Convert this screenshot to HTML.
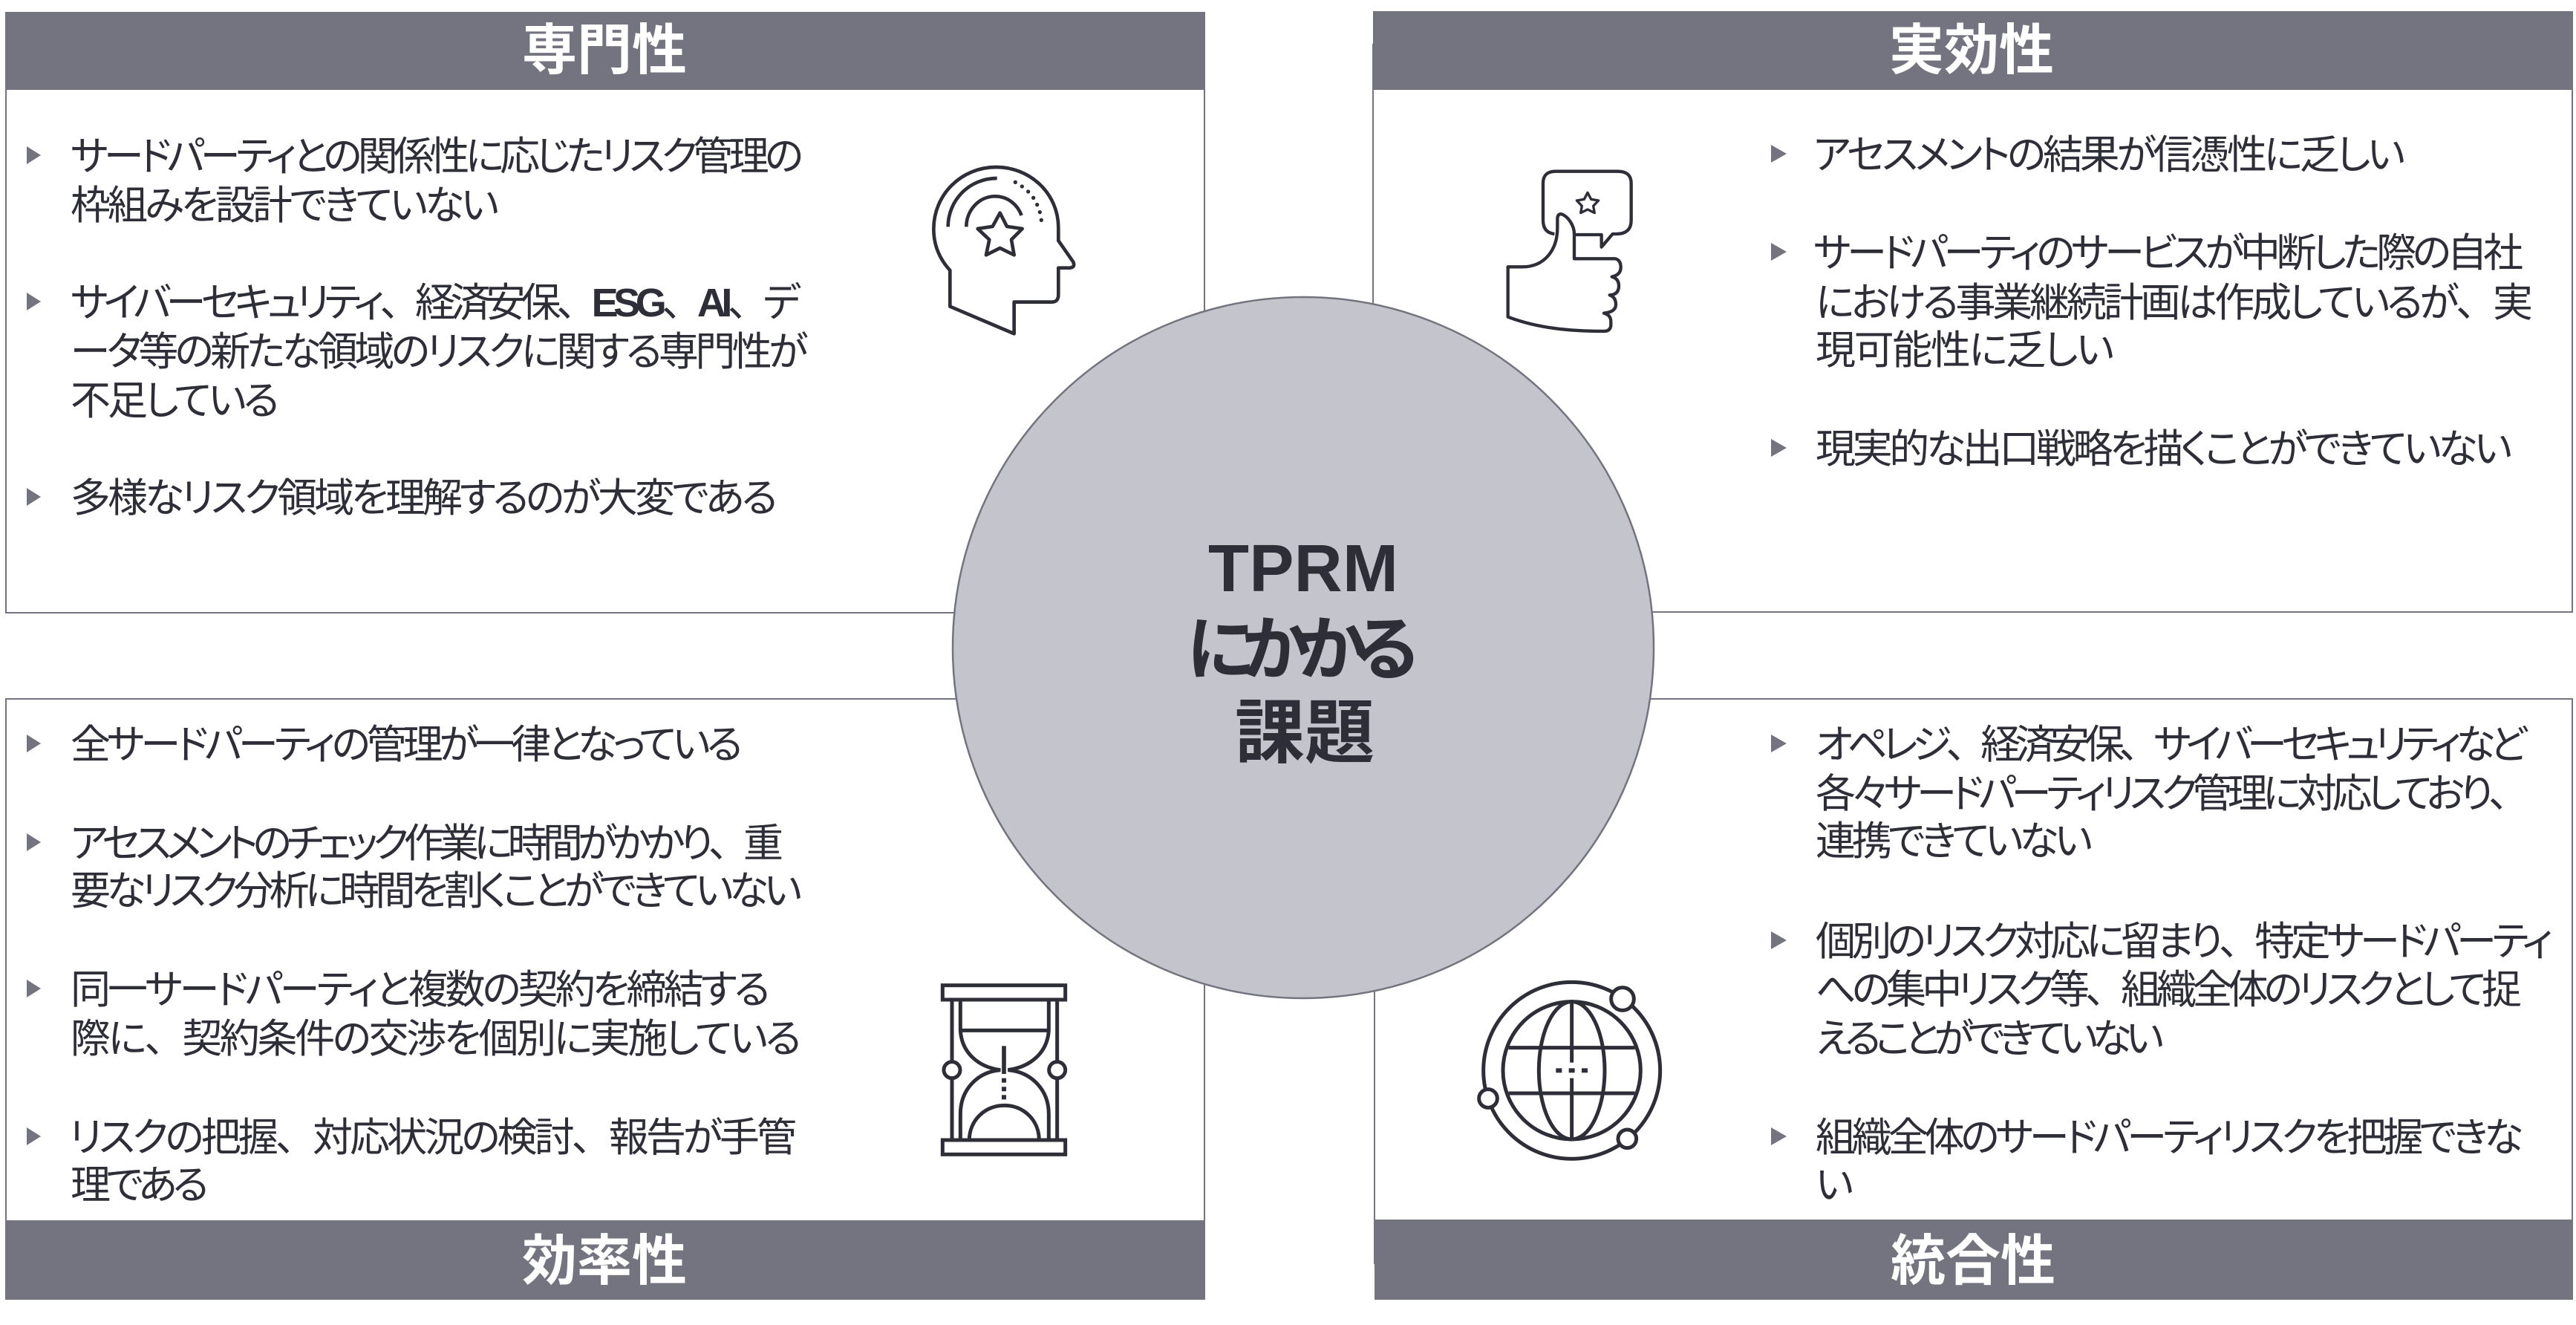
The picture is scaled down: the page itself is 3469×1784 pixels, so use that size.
<!DOCTYPE html>
<html lang="ja"><head><meta charset="utf-8"><title>TPRMにかかる課題</title>
<style>
html,body{margin:0;padding:0;background:#fff;width:3469px;height:1784px;overflow:hidden}
svg{display:block}
text{font-family:"Liberation Sans","Noto Sans CJK JP",sans-serif}
.t text{font-size:54px;font-weight:400;fill:#2e2e38;font-feature-settings:"palt";}
.t tspan.n{font-feature-settings:normal}
.t tspan.b{font-weight:700}
.h{font-size:74px;font-weight:700;fill:#fff;text-anchor:middle;font-feature-settings:"palt"}
.c{font-size:94px;font-weight:700;fill:#2e2e38;}
.i{fill:none;stroke:#2e2e38;stroke-width:13;stroke-linejoin:round}
</style></head><body>
<svg width="3469" height="1784" viewBox="0 0 3469 1784" xmlns="http://www.w3.org/2000/svg">
<g fill="#fff" stroke="#747480" stroke-width="2">
<rect x="8" y="60" width="1614" height="765"/>
<rect x="1849" y="60" width="1615" height="764"/>
<rect x="8" y="941" width="1614" height="760"/>
<rect x="1851" y="941" width="1613" height="760"/>
</g>
<g fill="#747480">
<rect x="7" y="16" width="1616" height="105"/>
<rect x="1849" y="15" width="1616" height="106"/>
<rect x="7" y="1643" width="1616" height="107"/>
<rect x="1851" y="1642" width="1614" height="108"/>
</g>
<text class="h" x="814" y="93">専門性</text>
<text class="h" x="2655" y="93">実効性</text>
<text class="h" x="814" y="1723">効率性</text>
<text class="h" x="2657" y="1723">統合性</text>

<g fill="#747480">
<path d="M36 197l19 12-19 12zM36 394l19 12-19 12zM36 657l19 12-19 12z"/>
<path d="M2385 195l21 12-21 12zM2385 327l21 12-21 12zM2385 591l21 12-21 12z"/>
<path d="M36 989l19 12-19 12zM36 1122l19 12-19 12zM36 1319l19 12-19 12zM36 1518l19 12-19 12z"/>
<path d="M2385 989l21 12-21 12zM2385 1254l21 12-21 12zM2385 1518l21 12-21 12z"/>
</g>

<g class="t">
<text x="95" y="229" textLength="987" lengthAdjust="spacing">サードパーティとの関係性に応じたリスク管理の</text>
<text x="95" y="295" textLength="577" lengthAdjust="spacing">枠組みを設計できていない</text>
<text x="95" y="426" textLength="983" lengthAdjust="spacing">サイバーセキュリティ<tspan class="n">、</tspan>経済安保<tspan class="n">、</tspan><tspan class="b">ESG</tspan><tspan class="n">、</tspan><tspan class="b">AI</tspan><tspan class="n">、</tspan>デ</text>
<text x="95" y="492" textLength="993" lengthAdjust="spacing">ータ等の新たな領域のリスクに関する専門性が</text>
<text x="95" y="558" textLength="281" lengthAdjust="spacing">不足している</text>
<text x="95" y="689" textLength="952" lengthAdjust="spacing">多様なリスク領域を理解するのが大変である</text>

<text x="2442" y="227" textLength="797" lengthAdjust="spacing">アセスメントの結果が信憑性に乏しい</text>
<text x="2442" y="359" textLength="956" lengthAdjust="spacing">サードパーティのサービスが中断した際の自社</text>
<text x="2445" y="426" textLength="966" lengthAdjust="spacing">における事業継続計画は作成しているが<tspan class="n">、</tspan>実</text>
<text x="2445" y="490" textLength="402" lengthAdjust="spacing">現可能性に乏しい</text>
<text x="2445" y="623" textLength="938" lengthAdjust="spacing">現実的な出口戦略を描くことができていない</text>

<text x="95" y="1021" textLength="905" lengthAdjust="spacing">全サードパーティの管理が一律となっている</text>
<text x="95" y="1154" textLength="960" lengthAdjust="spacing">アセスメントのチェック作業に時間がかかり<tspan class="n">、</tspan>重</text>
<text x="95" y="1218" textLength="985" lengthAdjust="spacing">要なリスク分析に時間を割くことができていない</text>
<text x="95" y="1351" textLength="942" lengthAdjust="spacing">同一サードパーティと複数の契約を締結する</text>
<text x="95" y="1417" textLength="984" lengthAdjust="spacing">際に<tspan class="n">、</tspan>契約条件の交渉を個別に実施している</text>
<text x="93" y="1550" textLength="980" lengthAdjust="spacing">リスクの把握<tspan class="n">、</tspan>対応状況の検討<tspan class="n">、</tspan>報告が手管</text>
<text x="95" y="1614" textLength="186" lengthAdjust="spacing">理である</text>

<text x="2445" y="1021" textLength="958" lengthAdjust="spacing">オペレジ<tspan class="n">、</tspan>経済安保<tspan class="n">、</tspan>サイバーセキュリティなど</text>
<text x="2445" y="1087" textLength="960" lengthAdjust="spacing">各々サードパーティリスク管理に対応しており<tspan class="n">、</tspan></text>
<text x="2445" y="1151" textLength="373" lengthAdjust="spacing">連携できていない</text>
<text x="2445" y="1286" textLength="993" lengthAdjust="spacing">個別のリスク対応に留まり<tspan class="n">、</tspan>特定サードパーティ</text>
<text x="2445" y="1351" textLength="951" lengthAdjust="spacing">への集中リスク等<tspan class="n">、</tspan>組織全体のリスクとして捉</text>
<text x="2445" y="1417" textLength="469" lengthAdjust="spacing">えることができていない</text>
<text x="2445" y="1550" textLength="953" lengthAdjust="spacing">組織全体のサードパーティリスクを把握できな</text>
<text x="2445" y="1614">い</text>
</g>

<circle cx="1755" cy="872" r="472" fill="#c4c4cd" stroke="#747480" stroke-width="2.5"/>
<text class="c" x="1627" y="796" textLength="256" lengthAdjust="spacing" style="font-size:90px">TPRM</text>
<text class="c" x="1598" y="907" textLength="312" lengthAdjust="spacing" style="font-feature-settings:'palt'">にかかる</text>
<text class="c" x="1663" y="1019" textLength="188" lengthAdjust="spacing">課題</text>

<!-- head -->
<g transform="translate(1200 180) scale(.3333)" class="i" style="stroke-width:14">
<path d="M238 552V698L497 808V680H650Q676 680 676 650V542H722Q745 540 736 518L676 432V380C676 240 560 135 425 135C285 135 172 245 172 385C172 450 195 505 238 552Z"/>
<path d="M230 376C230 270 315 180 428 180"/>
<path d="M304 376C304 310 355 253 420 253C470 253 510 285 527 330"/>
<path d="M440 320L468 375L530 384L486 428L497 490L440 462L384 490L397 428L350 384L410 375Z"/>
<g fill="#2e2e38" stroke="none"><circle cx="502" cy="196" r="8"/><circle cx="529" cy="213" r="8"/><circle cx="554" cy="234" r="8"/><circle cx="575" cy="259" r="8"/><circle cx="590" cy="287" r="8"/><circle cx="601" cy="317" r="8"/><circle cx="607" cy="349" r="8"/></g>
</g>
<!-- thumb -->
<g transform="translate(2000 200) scale(.3333)" class="i">
<path d="M280 345Q234 340 234 290V140Q234 92 285 92H535Q590 92 590 140V290Q590 345 530 345H515L470 398V348H360"/>
<path d="M92 478H150C240 478 292 410 292 320V285Q292 262 310 265C335 275 360 310 360 345V445H525Q548 450 548 480Q548 510 512 518Q540 525 540 555Q540 590 503 592Q528 600 528 630Q528 660 480 665Q508 672 508 700V715Q505 738 480 738C340 738 210 725 92 680Z"/>
<path style="stroke-width:10" d="M414 178L428 205L458 210L437 232L442 260L414 246L386 260L391 232L370 210L400 205Z"/>
</g>
<!-- hourglass -->
<g transform="translate(1240 1300) scale(.3333)" class="i" style="stroke-width:15;stroke-linejoin:miter">
<rect x="88" y="80" width="496" height="58"/>
<rect x="88" y="705" width="496" height="58"/>
<path d="M126 138V385M126 459V705M551 138V385M551 459V705"/>
<circle cx="126" cy="422" r="33"/><circle cx="551" cy="422" r="33"/>
<path d="M160 138V262C165 350 230 410 322 422C230 430 160 500 160 600V705"/>
<path d="M517 138V262C512 350 445 410 352 422C445 430 517 500 517 600V705"/>
<path d="M160 262H517"/>
<path d="M196 705C196 625 260 565 338 565C415 565 478 625 478 705"/>
<path d="M336 325V438" style="stroke-width:17"/>
<g fill="#2e2e38" stroke="none"><rect x="327" y="455" width="18" height="18"/><rect x="327" y="490" width="18" height="18"/><rect x="327" y="523" width="18" height="18"/></g>
</g>
<!-- globe -->
<g transform="translate(1970 1300) scale(.3333)" class="i" style="stroke-width:15">
<circle cx="440" cy="424" r="357"/>
<circle cx="645" cy="135" r="46" fill="#fff"/>
<circle cx="102" cy="537" r="37" fill="#fff"/>
<circle cx="664" cy="700" r="37" fill="#fff"/>
<circle cx="440" cy="424" r="278"/>
<ellipse cx="440" cy="424" rx="133" ry="278"/>
<path d="M440 150V392M440 455V700M185 332H695M185 516H695"/>
<g fill="#2e2e38" stroke="none"><rect x="376" y="415" width="24" height="18"/><rect x="428" y="415" width="24" height="18"/><rect x="480" y="415" width="24" height="18"/></g>
</g>
</svg>
</body></html>
